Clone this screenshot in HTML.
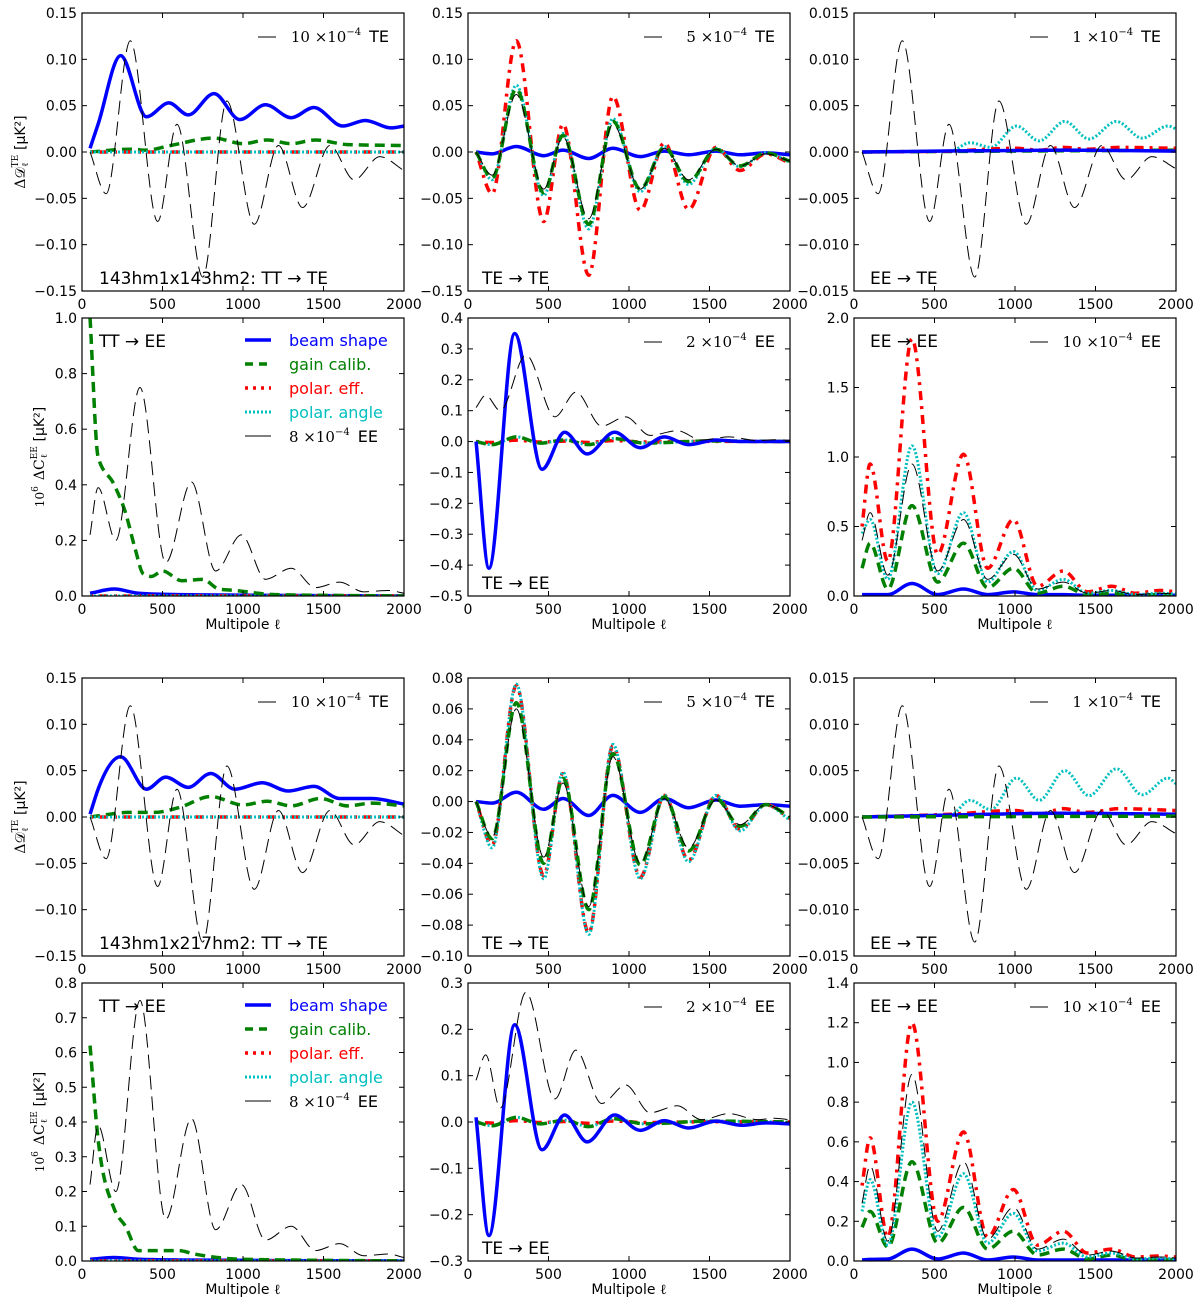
<!DOCTYPE html>
<html><head><meta charset="utf-8">
<style>
html,body{margin:0;padding:0;background:#fff;}
svg{display:block;}
text{font-family:"DejaVu Sans","Liberation Sans",sans-serif;}
.serif{font-family:"DejaVu Serif","Liberation Serif",serif;font-style:normal;}
</style></head>
<body>
<svg id="fig" width="1200" height="1304" viewBox="0 0 1200 1304" xmlns="http://www.w3.org/2000/svg"></svg>
<script>
// ---------- data ----------
const TE_ELL=[50,150,300,470,590,750,900,1070,1220,1370,1540,1690,1850,2000];
const EE_ELL=[50,100,210,360,520,680,830,990,1140,1300,1450,1600,1750,1900,2000];
const ZERO_ELL=[50,2000];
const ZERO_VAL=[0,0];

// panel 1: 143x143 TT->TE
const p1_black=[0,-0.045,0.12,-0.075,0.03,-0.135,0.055,-0.078,0.007,-0.06,0.007,-0.03,-0.005,-0.02];
const p1_blue_ell=[50,100,240,400,540,660,820,980,1140,1300,1440,1620,1760,1920,2000];
const p1_blue=[0.004,0.03,0.104,0.038,0.053,0.04,0.063,0.035,0.051,0.037,0.048,0.028,0.034,0.026,0.028];
const p1_green_ell=[50,300,400,550,820,1000,1150,1300,1450,1650,2000];
const p1_green=[0,0.003,0.002,0.007,0.015,0.009,0.013,0.009,0.013,0.008,0.007];

// panel 2: TE->TE
const p2_red=[0,-0.045,0.12,-0.075,0.03,-0.133,0.06,-0.063,0.01,-0.062,0.005,-0.02,-0.002,-0.012];
const p2_cyan=[0,-0.03,0.072,-0.047,0.02,-0.083,0.036,-0.043,0.006,-0.035,0.004,-0.016,-0.001,-0.011];
const p2_green=[0,-0.028,0.068,-0.044,0.018,-0.078,0.033,-0.04,0.005,-0.032,0.003,-0.015,-0.001,-0.01];
const p2_black=[0,-0.025,0.062,-0.04,0.016,-0.072,0.03,-0.04,0.004,-0.03,0.003,-0.015,-0.002,-0.01];
const p2_blue=[0,-0.002,0.006,-0.004,0.002,-0.007,0.004,-0.005,0.001,-0.003,0.001,-0.003,-0.001,-0.003];

// panel 3: EE->TE
const p3_black=[0,-0.0045,0.012,-0.0075,0.003,-0.0135,0.0055,-0.0078,0.0007,-0.006,0.0007,-0.003,-0.0005,-0.0018];
const p3_cyan_ell=[50,600,720,850,1010,1150,1310,1460,1630,1790,1950,2000];
const p3_cyan=[0,0.0001,0.001,0.0005,0.0028,0.0012,0.0033,0.0014,0.0033,0.0015,0.0028,0.0025];
const p3_red_ell=[50,600,1000,1150,1300,1450,1650,2000];
const p3_red=[0,0.0001,0.0004,0.0002,0.0005,0.0003,0.0005,0.0004];
const p3_green_ell=[50,2000];
const p3_green=[0,0.0002];
const p3_blue_ell=[50,1300,2000];
const p3_blue=[0,0.0002,0.0001];

// panel 4: TT->EE (143x143)
const p4_green_ell=[50,100,200,270,330,380,430,500,620,750,850,950,1200,2000];
const p4_green=[1.0,0.5,0.4,0.3,0.17,0.08,0.07,0.09,0.055,0.06,0.025,0.02,0.005,0];
const p4_black=[0.22,0.39,0.2,0.75,0.12,0.41,0.09,0.22,0.06,0.1,0.03,0.05,0.015,0.02,0.01];
const p4_blue_ell=[50,200,350,600,2000];
const p4_blue=[0.01,0.025,0.01,0.005,0];

// panel 5: TE->EE
const p5_blue_ell=[50,130,290,460,600,740,910,1070,1220,1370,1540,1700,2000];
const p5_blue=[0,-0.41,0.35,-0.09,0.03,-0.04,0.03,-0.02,0.015,-0.01,0.005,0,0];
const p5_black_ell=[50,110,200,360,540,670,830,980,1130,1300,1450,1620,1800,1900,2000];
const p5_black=[0.11,0.15,0.1,0.28,0.08,0.16,0.05,0.08,0.02,0.035,0.005,0.015,0.003,0.006,0.004];
const p5_small_ell=[50,150,300,450,600,750,900,1100,1500,2000];
const p5_small=[0,-0.01,0.015,-0.005,0.005,-0.01,0.01,-0.005,0.002,0];

// panel 6: EE->EE
const p6_red=[0.5,0.95,0.25,1.85,0.3,1.02,0.2,0.55,0.07,0.18,0.03,0.07,0.02,0.04,0.03];
const p6_black=[0.4,0.6,0.15,0.95,0.18,0.55,0.12,0.3,0.05,0.1,0.02,0.04,0.01,0.02,0.015];
const p6_cyan=[0.45,0.55,0.12,1.08,0.16,0.6,0.1,0.32,0.04,0.12,0.02,0.04,0.01,0.02,0.015];
const p6_green=[0.2,0.38,0.05,0.65,0.1,0.38,0.06,0.2,0.02,0.07,0.01,0.02,0.005,0.01,0.005];
const p6_blue=[0.01,0.01,0.01,0.09,0.01,0.05,0.01,0.03,0.01,0.01,0.005,0.005,0.005,0.005,0.005];

// panel 7: 143x217 TT->TE
const p7_black=p1_black.slice();
const p7_blue_ell=[50,100,240,400,520,660,800,950,1120,1280,1440,1600,1800,2000];
const p7_blue=[0.003,0.03,0.065,0.03,0.043,0.032,0.047,0.03,0.037,0.028,0.033,0.02,0.02,0.014];
const p7_green_ell=[50,300,450,600,800,1000,1150,1300,1480,1650,1800,2000];
const p7_green=[0,0.005,0.005,0.01,0.022,0.013,0.017,0.012,0.02,0.012,0.015,0.012];

// panel 8: TE->TE
const p8_red=[0,-0.028,0.075,-0.048,0.018,-0.085,0.036,-0.049,0.004,-0.038,0.004,-0.018,-0.002,-0.011];
const p8_cyan=[0,-0.03,0.076,-0.05,0.019,-0.086,0.037,-0.05,0.004,-0.039,0.004,-0.019,-0.002,-0.012];
const p8_green=[0,-0.024,0.064,-0.04,0.015,-0.07,0.031,-0.041,0.003,-0.032,0.002,-0.016,-0.002,-0.01];
const p8_black=[0,-0.023,0.06,-0.036,0.012,-0.068,0.029,-0.04,0.002,-0.03,0.001,-0.015,-0.002,-0.01];
const p8_blue=[0,-0.001,0.006,-0.005,0.002,-0.009,0.004,-0.007,0.002,-0.004,0.001,-0.003,-0.002,-0.003];

// panel 9: EE->TE
const p9_black=p3_black.slice();
const p9_cyan=[0,0.0002,0.0018,0.0008,0.0042,0.0018,0.005,0.0023,0.0052,0.0024,0.0042,0.0036];
const p9_red=[0,0.0003,0.0007,0.0003,0.0009,0.0005,0.0009,0.0007];
const p9_green=[0,0.0001];
const p9_blue=[0,0.0004,0.0003];

// panel 10: TT->EE
const p10_green_ell=[50,100,200,270,350,500,600,700,1000,2000];
const p10_green=[0.62,0.35,0.15,0.1,0.03,0.03,0.03,0.02,0.005,0];
const p10_black=p4_black.slice();
const p10_blue=[0.005,0.01,0.005,0.003,0];

// panel 11: TE->EE
const p11_blue_ell=[50,130,290,460,600,740,910,1070,1220,1370,1540,1700,1850,2000];
const p11_blue=[0.01,-0.245,0.21,-0.06,0.015,-0.043,0.015,-0.018,0.003,-0.013,0.002,-0.007,-0.002,-0.004];
const p11_black=[0.09,0.145,0.03,0.28,0.05,0.155,0.04,0.08,0.02,0.035,0.005,0.018,0.005,0.008,0.005];
const p11_small=[0,-0.008,0.01,-0.004,0.004,-0.01,0.007,-0.004,0.002,0];

// panel 12: EE->EE
const p12_red=[0.38,0.62,0.12,1.2,0.2,0.65,0.12,0.36,0.08,0.15,0.04,0.06,0.02,0.025,0.02];
const p12_black=[0.29,0.48,0.1,0.94,0.15,0.5,0.11,0.27,0.06,0.11,0.03,0.05,0.015,0.02,0.015];
const p12_cyan=[0.25,0.41,0.08,0.8,0.12,0.44,0.09,0.24,0.05,0.09,0.02,0.04,0.01,0.015,0.01];
const p12_green=[0.17,0.25,0.07,0.5,0.09,0.27,0.06,0.15,0.03,0.06,0.01,0.03,0.005,0.005,0.005];
const p12_blue=[0.005,0.008,0.01,0.06,0.01,0.04,0.005,0.02,0.005,0.005,0.005,0.005,0.005,0.005,0.005];

const X_TICKS=[0,500,1000,1500,2000];

// ---------- rendering ----------
const NS="http://www.w3.org/2000/svg";
const fig=document.getElementById('fig');
function mk(tag,attrs,parent){const e=document.createElementNS(NS,tag);for(const k in attrs)e.setAttribute(k,attrs[k]);(parent||fig).appendChild(e);return e;}

const COLX=[82,468,854], W=322;
const ROWY=[13,318,678,983], H=278;
const STY={
 blue:{stroke:'#0000ff',w:3.5,dash:''},
 green:{stroke:'#008000',w:3.5,dash:'10,6'},
 red:{stroke:'#ff0000',w:3.5,dash:'3,6,9,6'},
 cyan:{stroke:'#00bfbf',w:3,dash:'2,2'},
 black:{stroke:'#000000',w:1,dash:'14,7'}
};

function fmt(v,d){const s=Math.abs(v).toFixed(d);return (v<-1e-12?'\u2212':'')+s;}

function smoothPath(px,py){
  const n=px.length;if(n<2)return '';
  const s=[],t=new Array(n);
  for(let i=0;i<n-1;i++)s.push((py[i+1]-py[i])/(px[i+1]-px[i]));
  t[0]=s[0];t[n-1]=s[n-2];
  for(let i=1;i<n-1;i++){
    const h0=px[i]-px[i-1],h1=px[i+1]-px[i];
    const p=(s[i-1]*h1+s[i]*h0)/(h0+h1);
    t[i]=(Math.sign(s[i-1])+Math.sign(s[i]))*Math.min(Math.abs(s[i-1]),Math.abs(s[i]),0.5*Math.abs(p));
  }
  let d='M'+px[0].toFixed(2)+','+py[0].toFixed(2);
  for(let i=0;i<n-1;i++){
    const h=(px[i+1]-px[i])/3;
    d+=' C'+(px[i]+h).toFixed(2)+','+(py[i]+t[i]*h).toFixed(2)+' '+(px[i+1]-h).toFixed(2)+','+(py[i+1]-t[i+1]*h).toFixed(2)+' '+px[i+1].toFixed(2)+','+py[i+1].toFixed(2);
  }
  return d;
}

let clipId=0;
function panel(cfg){
  const x0=COLX[cfg.col], y0=ROWY[cfg.row];
  const g=mk('g',{});
  
  
  const xs=l=>x0+l/2000*W;
  const ys=v=>y0+H-(v-cfg.ymin)/(cfg.ymax-cfg.ymin)*H;
  const cid='clip'+(clipId++);
  const cp=mk('clipPath',{id:cid},g);
  mk('rect',{x:x0,y:y0,width:W,height:H},cp);
  const sg=mk('g',{'clip-path':'url(#'+cid+')'},g);
  
  
  for(const s of cfg.series){
    const st=STY[s.kind];
    const p=mk('path',{d:smoothPath(s.ell.map(xs),s.val.map(ys)),fill:'none',stroke:st.stroke,'stroke-width':st.w,'stroke-dasharray':st.dash,'stroke-linejoin':'round'},sg);
    
    
  }
  // frame
  const fr=mk('rect',{x:x0,y:y0,width:W,height:H,fill:'none',stroke:'#000','stroke-width':1.2},g);
  
  
  // x ticks
  for(const t of X_TICKS){
    const x=xs(t);
    mk('line',{x1:x,y1:y0+H,x2:x,y2:y0+H-5,stroke:'#000','stroke-width':1},g);
    mk('line',{x1:x,y1:y0,x2:x,y2:y0+5,stroke:'#000','stroke-width':1},g);
    const tx=mk('text',{x:x,y:y0+H+18,'text-anchor':'middle','font-size':14},g);
    tx.textContent=String(t);
    
    
  }
  // y ticks
  const nt=Math.round((cfg.ymax-cfg.ymin)/cfg.ystep);
  for(let i=0;i<=nt;i++){
    const v=cfg.ymin+i*cfg.ystep, y=ys(v);
    mk('line',{x1:x0,y1:y,x2:x0+5,y2:y,stroke:'#000','stroke-width':1},g);
    mk('line',{x1:x0+W,y1:y,x2:x0+W-5,y2:y,stroke:'#000','stroke-width':1},g);
    const ty=mk('text',{x:x0-5,y:y+5,'text-anchor':'end','font-size':14},g);
    ty.textContent=fmt(v,cfg.dec);
    
    
  }
  // reference legend (top right)
  if(cfg.ref){
    const ly=y0+24;
    mk('line',{x1:x0+176,y1:ly,x2:x0+194,y2:ly,stroke:'#000','stroke-width':1},g);
    const lt=mk('text',{x:x0+307,y:ly+5,'text-anchor':'end','font-size':16},g);
    
    
    const a=mk('tspan',{class:'serif','font-size':15},lt);a.textContent=cfg.ref[0]+' \u00d710';
    const b=mk('tspan',{class:'serif','font-size':10,dy:-7},lt);b.textContent='\u22124';
    const c=mk('tspan',{dy:7},lt);c.textContent='\u2002'+cfg.ref[1];
  }
  if(cfg.note){
    const nt2=mk('text',{x:x0+(cfg.note[2]||17),y:cfg.note[1]==='top'?y0+29:y0+H-7,'font-size':17},g);
    nt2.textContent=cfg.note[0];
    
    
  }
  if(cfg.legend){
    const names=['beam shape','gain calib.','polar. eff.','polar. angle'];
    const kinds=['blue','green','red','cyan'];
    for(let i=0;i<5;i++){
      const ly=y0+22+i*24;
      const st=STY[i<4?kinds[i]:'black'];
      const ln=mk('line',{x1:x0+163,y1:ly,x2:x0+189,y2:ly,stroke:st.stroke,'stroke-width':i<4?st.w:1,'stroke-dasharray':i==2?'3,5':(i==1?'8,6':(i==3?'2,2':''))},g);
      
      
      const tx=mk('text',{x:x0+207,y:ly+6,'font-size':16,fill:st.stroke},g);
      
      
      if(i<4) tx.textContent=names[i];
      else {const a=mk('tspan',{class:'serif','font-size':15},tx);a.textContent='8 \u00d710';
        const b=mk('tspan',{class:'serif','font-size':10,dy:-7},tx);b.textContent='\u22124';
        const c=mk('tspan',{dy:7},tx);c.textContent='\u2002EE';}
    }
  }
}

function S(kind,ell,val){return {kind,ell,val};}

const panels=[
 {name:'panel-143x143-tt-te',col:0,row:0,ymin:-0.15,ymax:0.15,ystep:0.05,dec:2,ref:['10','TE'],note:['143hm1x143hm2: TT \u2192 TE','bottom',17],
  series:[S('blue',p1_blue_ell,p1_blue),S('green',p1_green_ell,p1_green),S('red',ZERO_ELL,ZERO_VAL),S('cyan',ZERO_ELL,ZERO_VAL),S('black',TE_ELL,p1_black)]},
 {name:'panel-143x143-te-te',col:1,row:0,ymin:-0.15,ymax:0.15,ystep:0.05,dec:2,ref:['5','TE'],note:['TE \u2192 TE','bottom',14],
  series:[S('blue',TE_ELL,p2_blue),S('red',TE_ELL,p2_red),S('cyan',TE_ELL,p2_cyan),S('green',TE_ELL,p2_green),S('black',TE_ELL,p2_black)]},
 {name:'panel-143x143-ee-te',col:2,row:0,ymin:-0.015,ymax:0.015,ystep:0.005,dec:3,ref:['1','TE'],note:['EE \u2192 TE','bottom',16],
  series:[S('cyan',p3_cyan_ell,p3_cyan),S('green',p3_green_ell,p3_green),S('red',p3_red_ell,p3_red),S('blue',p3_blue_ell,p3_blue),S('black',TE_ELL,p3_black)]},
 {name:'panel-143x143-tt-ee',col:0,row:1,ymin:0,ymax:1.0,ystep:0.2,dec:1,legend:true,note:['TT \u2192 EE','top',17],
  series:[S('blue',p4_blue_ell,p4_blue),S('red',ZERO_ELL,ZERO_VAL),S('cyan',ZERO_ELL,ZERO_VAL),S('green',p4_green_ell,p4_green),S('black',EE_ELL,p4_black)]},
 {name:'panel-143x143-te-ee',col:1,row:1,ymin:-0.5,ymax:0.4,ystep:0.1,dec:1,ref:['2','EE'],note:['TE \u2192 EE','bottom',14],
  series:[S('red',p5_small_ell,p5_small.map(v=>v*0.3)),S('cyan',p5_small_ell,p5_small),S('green',p5_small_ell,p5_small),S('blue',p5_blue_ell,p5_blue),S('black',p5_black_ell,p5_black)]},
 {name:'panel-143x143-ee-ee',col:2,row:1,ymin:0,ymax:2.0,ystep:0.5,dec:1,ref:['10','EE'],note:['EE \u2192 EE','top',16],
  series:[S('blue',EE_ELL,p6_blue),S('green',EE_ELL,p6_green),S('red',EE_ELL,p6_red),S('cyan',EE_ELL,p6_cyan),S('black',EE_ELL,p6_black)]},
 {name:'panel-143x217-tt-te',col:0,row:2,ymin:-0.15,ymax:0.15,ystep:0.05,dec:2,ref:['10','TE'],note:['143hm1x217hm2: TT \u2192 TE','bottom',17],
  series:[S('blue',p7_blue_ell,p7_blue),S('green',p7_green_ell,p7_green),S('red',ZERO_ELL,ZERO_VAL),S('cyan',ZERO_ELL,ZERO_VAL),S('black',TE_ELL,p7_black)]},
 {name:'panel-143x217-te-te',col:1,row:2,ymin:-0.10,ymax:0.08,ystep:0.02,dec:2,ref:['5','TE'],note:['TE \u2192 TE','bottom',14],
  series:[S('blue',TE_ELL,p8_blue),S('red',TE_ELL,p8_red),S('cyan',TE_ELL,p8_cyan),S('green',TE_ELL,p8_green),S('black',TE_ELL,p8_black)]},
 {name:'panel-143x217-ee-te',col:2,row:2,ymin:-0.015,ymax:0.015,ystep:0.005,dec:3,ref:['1','TE'],note:['EE \u2192 TE','bottom',16],
  series:[S('cyan',p3_cyan_ell,p9_cyan),S('red',p3_red_ell,p9_red),S('blue',p3_blue_ell,p9_blue),S('green',p3_green_ell,p9_green),S('black',TE_ELL,p9_black)]},
 {name:'panel-143x217-tt-ee',col:0,row:3,ymin:0,ymax:0.8,ystep:0.1,dec:1,legend:true,note:['TT \u2192 EE','top',17],
  series:[S('blue',p4_blue_ell,p10_blue),S('red',ZERO_ELL,ZERO_VAL),S('cyan',ZERO_ELL,ZERO_VAL),S('green',p10_green_ell,p10_green),S('black',EE_ELL,p10_black)]},
 {name:'panel-143x217-te-ee',col:1,row:3,ymin:-0.3,ymax:0.3,ystep:0.1,dec:1,ref:['2','EE'],note:['TE \u2192 EE','bottom',14],
  series:[S('red',p5_small_ell,p11_small.map(v=>v*0.3)),S('cyan',p5_small_ell,p11_small),S('green',p5_small_ell,p11_small),S('blue',p11_blue_ell,p11_blue),S('black',p5_black_ell,p11_black)]},
 {name:'panel-143x217-ee-ee',col:2,row:3,ymin:0,ymax:1.4,ystep:0.2,dec:1,ref:['10','EE'],note:['EE \u2192 EE','top',16],
  series:[S('blue',EE_ELL,p12_blue),S('green',EE_ELL,p12_green),S('red',EE_ELL,p12_red),S('cyan',EE_ELL,p12_cyan),S('black',EE_ELL,p12_black)]}
];
panels.forEach(panel);

// axis titles
function ylab(cx,cy,kind){
  const t=mk('text',{x:0,y:0,'text-anchor':'middle','font-size':14,transform:'translate('+cx+','+cy+') rotate(-90)'});
  
  
  if(kind==='TE'){
    const a=mk('tspan',{class:'serif','font-style':'italic'},t);a.textContent='\u0394\ud835\udc9f';
    const b=mk('tspan',{class:'serif','font-size':9,dy:-7,'font-style':'italic'},t);b.textContent='TE';
    const c=mk('tspan',{class:'serif','font-size':9,dy:10,dx:-12,'font-style':'italic'},t);c.textContent='\u2113';
    const d=mk('tspan',{dy:-3,dx:8},t);d.textContent=' [\u03bcK\u00b2]';
  } else {
    const a=mk('tspan',{class:'serif','font-size':12},t);a.textContent='10';
    const b=mk('tspan',{class:'serif','font-size':9,dy:-6},t);b.textContent='6';
    const c=mk('tspan',{class:'serif','font-style':'italic',dy:6,dx:6},t);c.textContent='\u0394C';
    const d=mk('tspan',{class:'serif','font-size':9,dy:-7,'font-style':'italic'},t);d.textContent='EE';
    const e=mk('tspan',{class:'serif','font-size':9,dy:10,dx:-12,'font-style':'italic'},t);e.textContent='\u2113';
    const f=mk('tspan',{dy:-3,dx:8},t);f.textContent=' [\u03bcK\u00b2]';
  }
}
ylab(25,152,'TE');ylab(44,457,'EE');ylab(25,817,'TE');ylab(44,1122,'EE');
for(const r of [1,3]){for(const c of [0,1,2]){
  const t=mk('text',{x:COLX[c]+W/2,y:ROWY[r]+H+33,'text-anchor':'middle','font-size':14});
  
  
  t.textContent='Multipole ';
  const s=mk('tspan',{class:'serif','font-style':'italic'},t);s.textContent='\u2113';
}}
</script>
</body></html>
